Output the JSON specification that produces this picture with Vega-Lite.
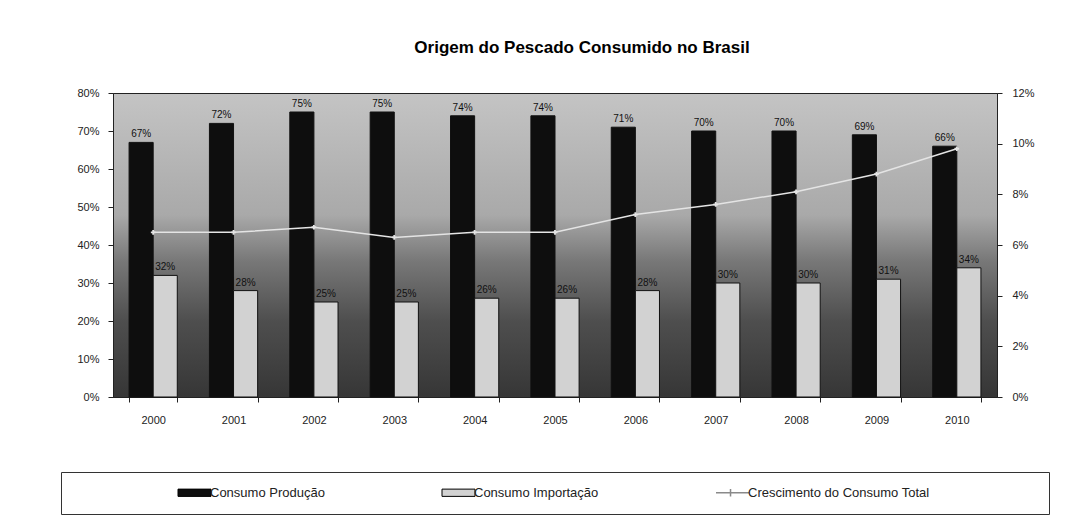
{
  "$schema": "https://vega.github.io/schema/vega-lite/v6.json",
  "width": 884,
  "height": 304,
  "autosize": {"type": "none"},
  "padding": {"left": 113, "top": 93, "right": 84, "bottom": 127},
  "background": "white",
  "config": {
    "font": "Liberation Sans",
    "view": {
      "stroke": "#222",
      "strokeWidth": 1,
      "fill": {
        "gradient": "linear", "x1": 0, "y1": 0, "x2": 0, "y2": 1,
        "stops": [
          {"offset": 0, "color": "#c4c4c4"},
          {"offset": 0.4, "color": "#a9a9a9"},
          {"offset": 0.55, "color": "#787878"},
          {"offset": 0.75, "color": "#4e4e4e"},
          {"offset": 1, "color": "#363636"}
        ]
      }
    },
    "axis": {"labelFont": "Liberation Sans", "labelFontSize": 11, "labelColor": "#222", "domainColor": "#222", "tickColor": "#222", "grid": false, "title": null}
  },
  "title": {
    "text": "Origem do Pescado Consumido no Brasil",
    "font": "Liberation Sans",
    "fontSize": 17,
    "fontWeight": "bold",
    "color": "#000",
    "anchor": "middle",
    "dx": 27,
    "offset": 30
  },
  "datasets": {
    "barras": [
      {"ano": "2000", "serie": "Consumo Produção", "valor": 0.67},
      {"ano": "2001", "serie": "Consumo Produção", "valor": 0.72},
      {"ano": "2002", "serie": "Consumo Produção", "valor": 0.75},
      {"ano": "2003", "serie": "Consumo Produção", "valor": 0.75},
      {"ano": "2004", "serie": "Consumo Produção", "valor": 0.74},
      {"ano": "2005", "serie": "Consumo Produção", "valor": 0.74},
      {"ano": "2006", "serie": "Consumo Produção", "valor": 0.71},
      {"ano": "2007", "serie": "Consumo Produção", "valor": 0.70},
      {"ano": "2008", "serie": "Consumo Produção", "valor": 0.70},
      {"ano": "2009", "serie": "Consumo Produção", "valor": 0.69},
      {"ano": "2010", "serie": "Consumo Produção", "valor": 0.66},
      {"ano": "2000", "serie": "Consumo Importação", "valor": 0.32},
      {"ano": "2001", "serie": "Consumo Importação", "valor": 0.28},
      {"ano": "2002", "serie": "Consumo Importação", "valor": 0.25},
      {"ano": "2003", "serie": "Consumo Importação", "valor": 0.25},
      {"ano": "2004", "serie": "Consumo Importação", "valor": 0.26},
      {"ano": "2005", "serie": "Consumo Importação", "valor": 0.26},
      {"ano": "2006", "serie": "Consumo Importação", "valor": 0.28},
      {"ano": "2007", "serie": "Consumo Importação", "valor": 0.30},
      {"ano": "2008", "serie": "Consumo Importação", "valor": 0.30},
      {"ano": "2009", "serie": "Consumo Importação", "valor": 0.31},
      {"ano": "2010", "serie": "Consumo Importação", "valor": 0.34}
    ],
    "linha": [
      {"ano": "2000", "crescimento": 0.065},
      {"ano": "2001", "crescimento": 0.065},
      {"ano": "2002", "crescimento": 0.067},
      {"ano": "2003", "crescimento": 0.063},
      {"ano": "2004", "crescimento": 0.065},
      {"ano": "2005", "crescimento": 0.065},
      {"ano": "2006", "crescimento": 0.072},
      {"ano": "2007", "crescimento": 0.076},
      {"ano": "2008", "crescimento": 0.081},
      {"ano": "2009", "crescimento": 0.088},
      {"ano": "2010", "crescimento": 0.098}
    ]
  },
  "layer": [
    {
      "data": {"name": "barras"},
      "encoding": {
        "x": {
          "field": "ano", "type": "ordinal",
          "scale": {"paddingInner": 0.4, "paddingOuter": 0.2},
          "axis": {"labelAngle": 0, "tickBand": "extent", "tickSize": 5, "labelPadding": 12}
        },
        "xOffset": {"field": "serie", "type": "nominal", "sort": ["Consumo Produção", "Consumo Importação"], "scale": {"domain": ["Consumo Produção", "Consumo Importação"], "paddingInner": 0}},
        "y": {
          "field": "valor", "type": "quantitative",
          "scale": {"domain": [0, 0.8], "nice": false},
          "axis": {"orient": "left", "values": [0, 0.1, 0.2, 0.3, 0.4, 0.5, 0.6, 0.7, 0.8], "format": ".0%", "tickSize": 5, "labelPadding": 9}
        }
      },
      "layer": [
        {
          "mark": {"type": "bar", "stroke": "#111", "strokeWidth": 1},
          "encoding": {
            "color": {
              "field": "serie", "type": "nominal",
              "scale": {
                "domain": ["Consumo Produção", "Consumo Importação", "Crescimento do Consumo Total"],
                "range": ["#0e0e0e", "#d2d2d2", "#9a9a9a"]
              },
              "legend": {
                "orient": "none",
                "direction": "horizontal",
                "columns": 3,
                "legendX": -52,
                "legendY": 379,
                "title": null,
                "padding": 14,
                "strokeColor": "#333",
                "fillColor": "white",
                "symbolType": "M-1,-0.22H1V0.22H-1Z",
                "symbolSize": 1089,
                "symbolStrokeColor": "#000",
                "symbolStrokeWidth": 1,
                "symbolOffset": 113,
                "columnPadding": 14,
                "labelFont": "Liberation Sans",
                "labelFontSize": 13,
                "labelColor": "#222",
                "labelOffset": 9,
                "labelLimit": 500,
                "labelExpr": "datum.label == 'Crescimento do Consumo Total' ? datum.label + '\u00a0\u00a0\u00a0\u00a0\u00a0\u00a0\u00a0\u00a0\u00a0\u00a0\u00a0\u00a0\u00a0\u00a0\u00a0\u00a0\u00a0\u00a0\u00a0\u00a0\u00a0\u00a0\u00a0\u00a0\u00a0\u00a0\u00a0\u00a0\u00a0\u200b' : datum.label",
                "encode": {
                  "symbols": {
                    "update": {
                      "shape": {"signal": "datum.value == 'Crescimento do Consumo Total' ? 'M-1,0H1M-0.12,-0.22V0.22' : 'M-1,-0.22H1V0.22H-1Z'"},
                      "stroke": {"signal": "datum.value == 'Crescimento do Consumo Total' ? '#8a8a8a' : '#000'"},
                      "strokeWidth": {"signal": "datum.value == 'Crescimento do Consumo Total' ? 1.5 : 1"}
                    }
                  }
                }
              }
            }
          }
        },
        {
          "mark": {"type": "text", "baseline": "bottom", "dy": -3, "fontSize": 10, "font": "Liberation Sans", "color": "#111"},
          "encoding": {
            "text": {"field": "valor", "type": "quantitative", "format": ".0%"}
          }
        }
      ]
    },
    {
      "data": {"name": "linha"},
      "mark": {"type": "line", "color": "#e4e4e4", "strokeWidth": 1.5, "point": {"filled": true, "color": "#e4e4e4", "size": 22, "shape": "cross"}},
      "encoding": {
        "x": {"field": "ano", "type": "ordinal"},
        "y": {
          "field": "crescimento", "type": "quantitative",
          "scale": {"domain": [0, 0.12], "nice": false},
          "axis": {"orient": "right", "values": [0, 0.02, 0.04, 0.06, 0.08, 0.1, 0.12], "format": ".0%", "tickSize": 5, "labelPadding": 10}
        }
      }
    }
  ],
  "resolve": {"scale": {"y": "independent"}}
}
